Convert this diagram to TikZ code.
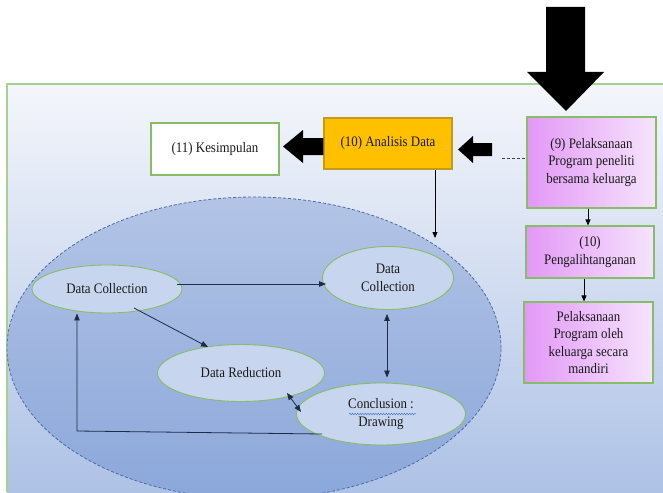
\documentclass[tikz,border=0pt]{standalone}
\usepackage{fontspec}
\setmainfont{Liberation Serif}[FakeStretch=0.89]
\usetikzlibrary{shapes.geometric,arrows.meta,decorations.pathmorphing}

\definecolor{panelTop}{HTML}{F4F6FB}
\definecolor{panelBot}{HTML}{AEC2E6}
\definecolor{panelEdge}{HTML}{A9D18E}
\definecolor{ellTop}{HTML}{B3C4E6}
\definecolor{ellBot}{HTML}{8BA7DA}
\definecolor{ellEdge}{HTML}{4C6C9E}
\definecolor{smallFill}{HTML}{C8D5EE}
\definecolor{greenEdge}{HTML}{86BD66}
\definecolor{gold}{HTML}{FFC000}
\definecolor{goldEdge}{HTML}{C49A1C}
\definecolor{violetA}{HTML}{E398F6}
\definecolor{violetB}{HTML}{F6E4FC}
\definecolor{navy}{HTML}{1E2B45}
\definecolor{ink}{HTML}{1A1A1A}
\definecolor{squiggle}{HTML}{4A7BD0}

\tikzset{
  bx/.style={rectangle, draw=greenEdge, line width=1.1pt, inner sep=2pt,
    align=center, text=ink},
  pbox/.style={bx, left color=violetA, right color=violetB},
  el/.style={ellipse, draw=greenEdge, line width=0.9pt, fill=smallFill,
    inner sep=0pt, align=center, text=ink},
  conn/.style={draw=navy, line width=0.8pt, -{Triangle[length=7pt,width=5.5pt]}},
  conn2/.style={draw=navy, line width=0.8pt,
    {Triangle[length=7pt,width=5.5pt]}-{Triangle[length=7pt,width=5.5pt]}},
  thin arrow/.style={draw=black, line width=0.8pt, -{Triangle[length=6pt,width=5pt]}},
  block/.style={fill=black, draw=none}
}

\begin{document}
\begin{tikzpicture}[x=1pt, y=-1pt, font=\fontsize{14.5}{17.5}\selectfont]
\useasboundingbox (0,0) rectangle (663,492);
\clip (0,0) rectangle (663,492);

% background panel
\shade[top color=panelTop, bottom color=panelBot] (7,84) rectangle (663,492);
\draw[panelEdge, line width=1.2pt] (7,492) -- (7,84) -- (663,84);

% analysis cycle container
\node[ellipse, minimum width=494, minimum height=302, inner sep=0pt,
  top color=ellTop, bottom color=ellBot, draw=ellEdge, line width=0.8pt,
  dash pattern=on 3pt off 2pt] (cycle) at (254,348) {};

% top row boxes
\node[bx, fill=white, minimum width=128, minimum height=52] (kes) at (215,149) {(11) Kesimpulan};
\node[bx, draw=goldEdge, fill=gold, minimum width=128, minimum height=51] (ana) at (388,143.5) {(10) Analisis Data};

% right column boxes
\node[pbox, minimum width=129, minimum height=91] (p9) at (591.5,162.5)
  {(9) Pelaksanaan\\Program peneliti\\bersama keluarga};
\node[pbox, minimum width=128, minimum height=52] (p10) at (590,252)
  {(10)\\Pengalihtanganan};
\node[pbox, minimum width=129, minimum height=81] (p11) at (588.5,342.5)
  {Pelaksanaan\\Program oleh\\keluarga secara\\mandiri};

% cycle stages
\node[el, minimum width=150, minimum height=48] (dc1) at (107,289) {Data Collection};
\node[el, minimum width=131, minimum height=63] (dc2) at (388,278) {Data\\Collection};
\node[el, minimum width=167, minimum height=57] (dr) at (241,373) {Data Reduction};
\node[el, minimum width=169, minimum height=62] (cd) at (381,414) {Conclusion :\\Drawing};

% spell-check squiggle under "Conclusion :"
\draw[squiggle, line width=0.5pt, decorate,
  decoration={snake, amplitude=0.8pt, segment length=2.6pt}]
  ([shift={(-32,0)}]cd.center) -- ([shift={(35,0)}]cd.center);

% block arrows
\draw[block] (546,7) -- (585,7) -- (585,72) -- (604,72) -- (566,111) -- (527,72) -- (546,72) -- cycle;
\draw[block] (ana.west |- 0,138) -- (303,138) -- (303,130) -- (283,146.5) -- (303,163) -- (303,155) -- (ana.west |- 0,155) -- cycle;
\draw[block] (492,143) -- (473,143) -- (473,136) -- (458,149.5) -- (473,163) -- (473,156) -- (492,156) -- cycle;

% dashed link from (9)
\draw[black!75, line width=0.8pt, dash pattern=on 3pt off 2pt]
  ([shift={(-24,-4.5)}]p9.west) -- ([yshift=4.5pt]p9.west);

% right column flow
\draw[thin arrow] ([xshift=-3.5pt]p9.south) -- ([xshift=-2pt]p10.north);
\draw[thin arrow] ([xshift=-6pt]p10.south) -- ([xshift=-4.5pt]p11.north);

% analysis into the cycle
\coordinate (cycIn) at (435,238);
\draw[thin arrow] ([xshift=47pt]ana.south) -- (cycIn);

% cycle connectors
\draw[conn] ([shift={(70,-5)}]dc1.center) -- ([shift={(4,6)}]dc2.west);
\draw[conn] ([shift={(27,19)}]dc1.center) -- ([shift={(-33,-26)}]dr.center);
\draw[conn2] ([shift={(-1,4)}]dc2.south) -- ([shift={(6,-5)}]cd.north);
\draw[conn2] ([shift={(46,20)}]dr.center) -- ([shift={(-80,-2)}]cd.center);
\coordinate (loopCorner) at (77,431);
\draw[conn] ([shift={(-59,20)}]cd.center) -- (loopCorner) -- (loopCorner |- dc1.south);
\end{tikzpicture}
\end{document}
